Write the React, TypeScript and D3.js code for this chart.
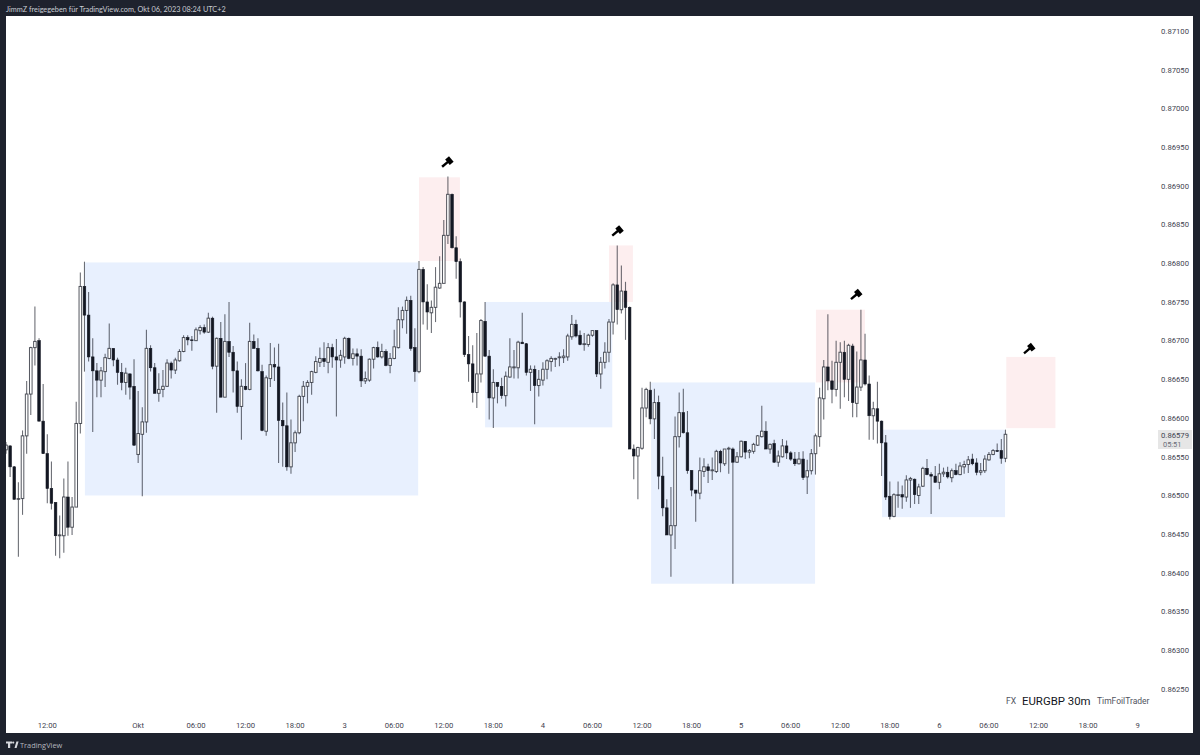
import React from "react";
import * as d3 from "d3";

// Prices are in points (1e-5) above 0.86000
const BASE = 0.86;
const POINT = 1e-5;

const opens = [
559,564,537,495,496,577,631,691,700,596,
554,509,491,448,448,498,459,485,593,770,
733,679,661,649,660,677,690,675,659,646,
657,641,553,579,595,690,665,632,637,641,
671,662,674,686,704,701,700,713,717,711,
729,667,703,627,699,685,661,615,641,637,
699,690,660,583,651,669,666,597,590,537,
568,581,628,641,646,659,672,677,672,691,
679,675,679,703,677,683,680,648,649,676,
691,679,686,668,677,691,727,739,752,691,
660,792,750,736,743,768,774,836,889,820,
802,750,682,670,633,657,725,680,626,646,
641,629,653,665,665,698,696,659,663,642,
649,663,673,676,678,678,679,705,721,707,
695,695,707,713,657,672,685,724,772,740,
764,743,560,551,561,613,636,599,620,525,
484,449,461,576,607,581,532,507,503,531,
537,532,531,557,541,560,560,543,550,570,
556,557,565,576,583,560,567,543,550,564,
555,547,541,547,524,532,554,576,625,666,
648,637,672,685,650,693,619,640,675,644,
603,612,596,568,499,473,500,501,498,520,
521,500,512,535,527,525,517,528,530,523,
532,527,537,540,547,542,530,532,546,553,
558,558,548];

const highs = [
569,565,538,517,584,648,692,744,703,644,
579,544,491,474,522,544,498,621,788,802,
763,703,671,666,683,722,690,678,671,665,
658,676,635,614,714,694,671,658,662,676,
673,678,689,707,707,706,717,720,721,736,
731,704,724,734,750,693,673,650,671,723,
708,703,669,655,697,691,696,620,633,598,
584,630,648,649,661,680,691,698,697,696,
702,688,705,704,690,690,689,660,677,692,
699,696,689,684,714,743,744,757,758,716,
803,795,773,752,795,809,856,912,890,835,
806,751,706,694,710,728,750,688,663,646,
652,660,703,688,700,736,697,668,668,662,
672,676,680,678,685,689,709,733,727,713,
710,709,713,713,679,698,728,774,823,797,
776,744,566,563,639,639,647,638,629,550,
495,511,602,633,638,609,533,507,549,548,
541,549,559,559,560,563,562,556,571,570,
560,568,578,616,596,567,572,558,573,571,
557,556,556,557,546,560,580,639,675,734,
674,700,698,700,696,696,686,740,709,655,
621,647,597,578,518,503,518,513,526,524,
522,515,537,547,530,538,541,536,537,535,
541,543,545,551,554,548,542,552,556,560,
567,573,585];

const lows = [
554,524,495,421,475,554,604,668,596,554,
490,482,422,419,426,448,449,485,580,660,
673,582,627,627,640,676,667,643,636,630,
624,564,542,499,581,660,632,621,627,640,
651,657,673,685,694,687,700,708,709,710,
663,607,627,627,679,633,607,572,636,636,
690,660,583,577,640,648,542,537,532,528,
556,579,596,619,630,658,666,666,658,665,
602,665,670,676,668,668,640,644,647,664,
678,677,667,658,676,690,716,709,687,647,
658,721,714,710,724,767,774,825,819,780,
730,679,647,620,613,646,679,598,587,619,
625,615,652,651,651,696,655,635,592,628,
642,650,660,666,667,671,674,701,704,694,
687,692,705,653,638,664,672,708,721,735,
701,560,521,495,559,601,592,573,508,473,
449,395,431,562,580,528,499,466,495,524,
516,520,529,530,538,528,386,542,549,547,
548,554,564,575,560,554,542,537,549,547,
545,538,540,520,502,527,527,563,598,636,
619,628,612,627,622,601,601,635,642,572,
572,567,525,494,469,472,484,483,492,484,
489,489,511,526,476,517,508,524,522,517,
526,526,528,529,539,526,526,529,545,552,
556,541,543];

const closes = [
565,537,495,496,577,631,691,699,596,554,
509,490,448,449,498,459,485,593,770,733,
679,661,649,661,678,690,675,659,646,658,
640,565,580,595,690,665,632,637,641,671,
662,675,686,704,701,700,714,717,711,729,
667,703,627,699,685,661,615,641,637,699,
690,661,584,652,669,666,597,590,537,568,
581,628,641,646,660,673,677,673,691,679,
675,681,703,677,683,680,648,651,676,691,
679,686,668,677,692,727,739,752,690,660,
792,750,737,743,769,774,836,889,820,802,
750,682,670,633,657,726,680,626,646,641,
629,654,666,666,698,696,659,663,642,650,
663,674,677,677,679,680,706,721,706,695,
696,707,713,657,672,685,724,772,740,764,
743,560,551,562,613,637,599,620,525,484,
449,461,576,607,581,532,507,503,532,537,
532,533,557,542,560,561,543,550,570,556,
558,566,577,583,560,566,543,551,564,555,
547,541,547,523,532,554,577,626,666,648,
637,672,685,650,694,620,640,675,644,603,
612,596,568,498,473,501,501,498,520,522,
501,511,535,527,525,517,528,530,524,532,
527,538,540,546,541,530,532,547,553,558,
557,548,579];

const timeTickBars = [10,32,46,58,70,82,94,106,118,130,142,154,166,178,190,202,214,226,238,250,262,274];
const timeTickLabels = ["12:00","Okt","06:00","12:00","18:00","3","06:00","12:00","18:00","4","06:00","12:00","18:00","5","06:00","12:00","18:00","6","06:00","12:00","18:00","9"];
const priceTicks = [0.871,0.8705,0.87,0.8695,0.869,0.8685,0.868,0.8675,0.867,0.8665,0.866,0.8655,0.865,0.8645,0.864,0.8635,0.863,0.8625];

// [startBar, endBar, highPrice, lowPrice]
const blueZones = [
  [19.1, 99.8, 0.86801, 0.865],
  [116, 146.8, 0.8675, 0.86588],
  [156.2, 195.9, 0.86646, 0.86386],
  [212.1, 241.9, 0.86585, 0.86472],
];
const redZones = [
  [100, 109.9, 0.86911, 0.86803],
  [146, 151.8, 0.86823, 0.8675],
  [196.1, 208, 0.8674, 0.86646],
  [242.2, 254.1, 0.86679, 0.86587],
];
// [bar, price]
const gavels = [
  [106.8, 0.8693],
  [148, 0.86841],
  [205.8, 0.86759],
  [247.7, 0.86689],
];

const lastPrice = "0.86579";
const countdown = "05:51";
const headerText = "JimmZ freigegeben für TradingView.com, Okt 06, 2023 08:24 UTC+2";

const x = d3.scaleLinear().domain([0, 1]).range([6, 10.13]);
const y = d3.scaleLinear().domain([0.8625, 0.871]).range([689, 31]);
const p = (v: number) => y(BASE + v * POINT);

const FRAME = "#1e222d";
const INK = "#131722";
const FONT = "Roboto, 'Open Sans', sans-serif";

function Zone({ z, fill }: { z: number[]; fill: string }) {
  return <rect x={x(z[0])} y={y(z[2])} width={x(z[1]) - x(z[0])} height={y(z[3]) - y(z[2])} fill={fill} />;
}

export default function App() {
  return (
    <svg width={1200} height={755} viewBox="0 0 1200 755" style={{ position: "absolute", left: 0, top: 0, display: "block" }}>
      <rect width={1200} height={755} fill="#ffffff" />
      {blueZones.map((z, i) => <Zone key={i} z={z} fill="#e8f0fe" />)}
      {redZones.map((z, i) => <Zone key={i} z={z} fill="#fdeeef" />)}
      {opens.map((o, i) => {
        const c = closes[i];
        const cx = x(i);
        const up = c >= o;
        const top = p(Math.max(o, c));
        const bot = p(Math.min(o, c));
        return (
          <g key={i}>
            <line x1={cx} x2={cx} y1={p(highs[i])} y2={p(lows[i])} stroke={INK} strokeOpacity={0.62} strokeWidth={1.1} />
            <rect
              x={cx - 1.3}
              y={top}
              width={2.6}
              height={Math.max(bot - top, 0.8)}
              fill={up ? "#ffffff" : INK}
              stroke={INK}
              strokeOpacity={up ? 0.72 : 1}
              strokeWidth={up ? 1 : 0.6}
            />
          </g>
        );
      })}
      {gavels.map(([b, pr], i) => (
        <g key={i} transform={`translate(${x(b)},${y(pr)}) rotate(-40)`} fill="#000000">
          <rect x={-6.5} y={-1.2} width={8} height={2.4} />
          <rect x={0.5} y={-3.6} width={5} height={7.2} />
        </g>
      ))}
      {/* price axis */}
      <g fontFamily={FONT} fontSize={7.7} fill="#3f4350" textAnchor="end">
        {priceTicks.map((t) => (
          <text key={t} x={1189} y={y(t) + 2.8}>{d3.format(".5f")(t)}</text>
        ))}
      </g>
      <rect x={1158} y={430} width={34} height={19} fill="#e6e6e6" />
      <text x={1189} y={438} fontFamily={FONT} fontSize={7.7} fill="#3f4350" textAnchor="end">{lastPrice}</text>
      <text x={1163} y={447} fontFamily={FONT} fontSize={7.4} fill="#6a6d78">{countdown}</text>
      {/* time axis */}
      <g fontFamily={FONT} fontSize={7.7} fill="#3f4350" textAnchor="middle">
        {timeTickBars.map((b, i) => (
          <text key={i} x={x(b)} y={728}>{timeTickLabels[i]}</text>
        ))}
      </g>
      {/* watermark */}
      <text x={1006} y={704} fontFamily={FONT} fontSize={8.6} fill="#50535e">FX</text>
      <text x={1022} y={705} fontFamily={FONT} fontSize={11.4} fill={INK}>EURGBP 30m</text>
      <text x={1097} y={704} fontFamily={FONT} fontSize={8.5} fill="#50535e">TimFoilTrader</text>
      {/* frame */}
      <path d="M0 0H1200V755H0Z M6 16V733H1193V16Z" fill={FRAME} fillRule="evenodd" />
      <text x={6} y={11.5} fontFamily="Lato, 'Open Sans', sans-serif" fontSize={7.3} fill="#c9ccd3">{headerText}</text>
      <g fill="#d6d8dd">
        <path d="M6 741.5H12V743.5H10.2V748H8V743.5H6Z" />
        <circle cx={13.2} cy={742.6} r={1.1} />
        <path d="M14.5 748L16.4 741.5H18.6L16.6 748Z" />
      </g>
      <text x={20} y={748} fontFamily="'Open Sans', sans-serif" fontSize={7.4} fill="#b4b7bf">TradingView</text>
    </svg>
  );
}
